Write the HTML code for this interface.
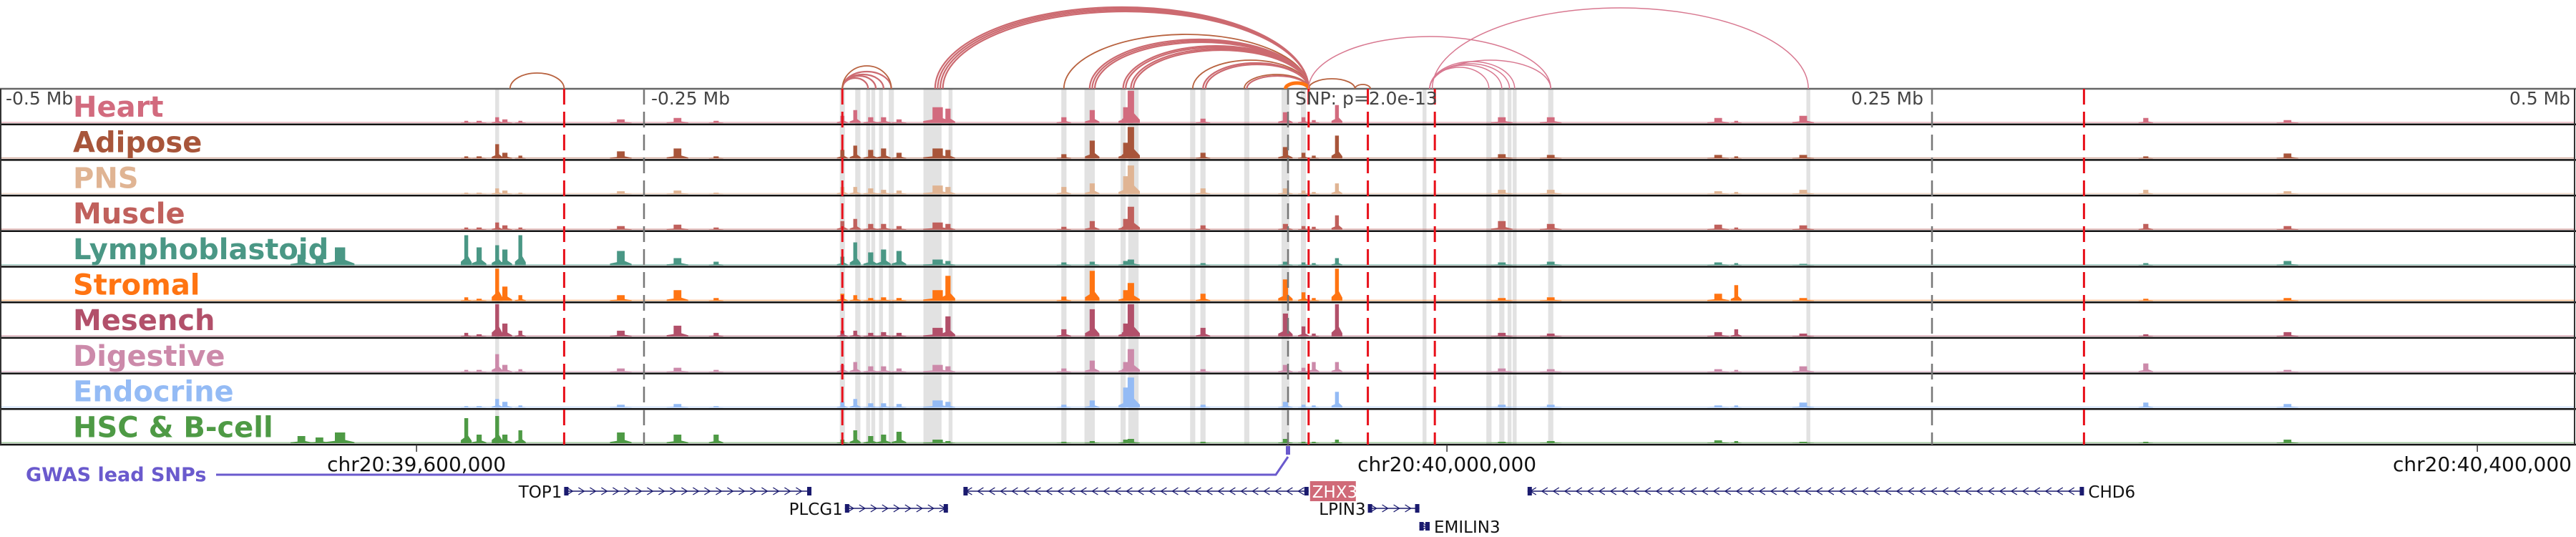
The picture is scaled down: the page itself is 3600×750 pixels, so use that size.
<!DOCTYPE html>
<html><head><meta charset="utf-8">
<style>
html,body{margin:0;padding:0;background:#fff;}
svg{display:block;}
text{font-family:"DejaVu Sans","Liberation Sans",sans-serif;}
</style></head>
<body>
<svg id="chart" width="3600" height="750" xmlns="http://www.w3.org/2000/svg">
<g id="highlights"></g>
<g id="tracks"></g>
<g id="vlines"></g>
<g id="arcs"></g>
<g id="axis"></g>
<g id="genes"></g>
</svg>
<script>
// ---- data ----
const trackNames = ["Heart","Adipose","PNS","Muscle","Lymphoblastoid","Stromal","Mesench","Digestive","Endocrine","HSC & B-cell"];
const trackColors = ["#d26b7e","#a8553a","#e0b493","#c0605c","#4a9785","#ff7412","#b2506a","#cc8aaa","#94bbf5","#4e9a45"];
// peak positions in kb relative to lead SNP
const peakKb = [-383,-376,-368,-319,-314,-307,-304,-298,-259,-237,-222,-173,-168,-162,-157,-151,-136,-132,-87,-76,-63,-61,-33,-1,6,10,19,83,102,167,174,200,333,388];
const peakWidthKb = [3,3,4,1.5,2,1.5,2,1.5,3,3,2,1.5,1.5,2,2,2,4,2,2,2,2,2.5,2,2,1.5,1.5,1.5,3,3,3,1.5,3,2,3];
const sHeart = [0,0,0,3,3,8,5,3,5,7,3,10,18,8,8,5,22,20,8,18,22,45,6,15,8,4,25,8,8,7,3,10,7,4];
const sAdipose = [0,0,0,3,3,20,8,4,10,14,3,12,18,12,14,8,14,12,6,25,22,44,8,16,8,4,32,6,5,5,3,5,3,7];
const sPNS = [0,0,0,2,2,8,5,2,4,5,2,10,10,8,6,5,12,10,10,15,25,40,8,8,5,3,15,6,6,4,3,6,6,4];
const sMuscle = [0,0,0,3,3,10,6,3,5,7,3,12,15,8,8,5,10,8,4,12,15,32,6,8,5,4,20,12,8,7,3,6,8,5];
const sLympho = [15,12,25,42,25,28,22,42,20,10,5,12,32,18,22,20,8,6,4,5,6,8,3,5,4,3,10,4,5,4,3,2,3,6];
const sStromal = [0,0,0,5,3,45,20,8,8,15,4,10,8,4,5,4,15,35,6,42,15,25,10,30,12,4,45,4,5,10,22,4,3,4];
const sMesench = [0,0,0,5,3,45,18,8,8,15,5,8,8,5,6,5,12,28,10,38,18,45,12,32,14,4,45,5,4,6,10,4,3,6];
const sDigestive = [0,0,0,3,3,25,10,4,5,6,3,10,14,8,8,5,10,8,5,16,14,32,4,10,6,14,14,5,4,4,3,8,12,3];
const sEndocrine = [0,0,0,2,2,12,8,3,4,5,2,8,12,6,6,5,10,8,4,10,28,42,4,8,4,3,22,4,4,3,3,7,7,5];
const sHSC = [10,8,15,35,12,38,12,18,15,12,12,5,18,10,12,16,5,3,2,3,5,6,2,6,2,2,5,2,3,4,3,2,2,5];
const trackSignals = [sHeart,sAdipose,sPNS,sMuscle,sLympho,sStromal,sMesench,sDigestive,sEndocrine,sHSC];
const highlightKb = [-307,-173,-167,-163,-161,-158,-154,-138,-131,-87,-77,-64,-60,-37,-33,-16,-1,6,53,78,83,86,88,102,202];
const highlightWkb = [1.5,2,2,1.5,1.5,1.5,2,7,1.5,2,4,2,4,2,2,2,3,2,1.5,2,2,1.5,1.5,2,1.5];
const redLinesKb = [-281,-173,8,31,57,309];
const greyLinesKb = [-250,0,250];
// arcs (kb start, kb end, height in px units)
const arcStart = [-302,-173,-173,-173,-173,-173,-137,-136,-135,-134,-87,-77,-76,-75,-64,-63,-61,-60,-37,-33,-32,-17,-16,-1,8,26,8,55,55,55,55,55,56];
const arcEnd = [-281,-163,-160,-157,-154,-154,8,8,8,8,8,8,8,8,8,8,8,8,8,8,8,8,8,8,26,32,102,78,83,86,88,102,202];
const arcHeight = [22,15,18,20,24,32,114,112,110,108,76,69,67,65,60,58,56,54,40,36,34,20,18,8,14,6,73,30,33,35,38,40,113];
const arcKind = [1,0,0,0,0,1,0,0,0,0,1,0,0,0,0,0,0,0,1,0,0,1,0,2,1,1,3,3,3,3,3,3,3];
const axisTicks = [39600000,40000000,40400000];
const axisTickLabels = ["chr20:39,600,000","chr20:40,000,000","chr20:40,400,000"];
const snpPos = 39938300;
const geneNames = ["TOP1","PLCG1","ZHX3","LPIN3","EMILIN3","CHD6"];
const geneStartKb = [-281,-172,-126,31,51,93];
const geneEndKb = [-185,-132,8,51,55,309];
const geneStrand = [1,1,-1,1,1,-1];
const geneRow = [0,1,0,1,2,0];

// ---- scales ----
const X0 = 1800, PXKB = 3.6;
const x = kb => X0 + kb*PXKB;
const xg = bp => X0 + (bp - snpPos)/1000*PXKB;
const T0 = 124, TH = 49.7;
const NS = "http://www.w3.org/2000/svg";
function mk(tag, attrs, parent){const e=document.createElementNS(NS,tag);for(const k in attrs)e.setAttribute(k,attrs[k]);parent.appendChild(e);return e;}

const gH = document.getElementById('highlights');
highlightKb.forEach((k,i)=>{
  const w = Math.max(5, highlightWkb[i]*PXKB);
  const r = mk('rect',{x:x(k)-w/2,y:T0,width:w,height:TH*10,fill:'#e2e2e2'},gH);
  
  
});

const gT = document.getElementById('tracks');
trackNames.forEach((name,t)=>{
  const top = T0 + t*TH, base = top + TH - 2;
  const g = mk('g',{},gT);
  
  
  mk('rect',{x:0,y:base-1.5,width:3598,height:1.5,fill:trackColors[t],opacity:0.5},g);
  const sig = trackSignals[t];
  peakKb.forEach((k,i)=>{
    const h = sig[i]; if(!h) return;
    const w = Math.max(3, peakWidthKb[i]*PXKB);
    const cx = x(k);
    const pts = [[cx-w*1.4,base],[cx-w*1.4,base-h*0.12],[cx-w/2,base-h*0.22],[cx-w/2,base-h],[cx+w/2,base-h],[cx+w/2,base-h*0.3],[cx+w*1.4,base-h*0.1],[cx+w*1.4,base]];
    const p = mk('polygon',{points:pts.map(q=>q.join(',')).join(' '),fill:trackColors[t]},g);
    
    
  });
  const lab = mk('text',{x:102,y:top+39,'font-size':40,'font-weight':'bold',fill:trackColors[t]},g);
  lab.textContent = name;
  
  
});
// borders
for(let i=0;i<=10;i++){
  const l = mk('line',{x1:0,x2:3600,y1:T0+i*TH,y2:T0+i*TH,stroke:i==0?'#666':'#111','stroke-width':2.5},gT);
  
  
}
mk('line',{x1:1,x2:1,y1:T0,y2:T0+TH*10,stroke:'#333','stroke-width':2},gT);
mk('line',{x1:3598,x2:3598,y1:T0,y2:T0+TH*10,stroke:'#333','stroke-width':2},gT);

const gV = document.getElementById('vlines');
redLinesKb.forEach(k=>{
  const l = mk('line',{x1:x(k),x2:x(k),y1:T0,y2:T0+TH*10,stroke:'#e8101a','stroke-width':3,'stroke-dasharray':'22,10'},gV);
  
  
});
greyLinesKb.forEach(k=>{
  const l = mk('line',{x1:x(k),x2:x(k),y1:T0,y2:T0+TH*10,stroke:'#777','stroke-width':2.5,'stroke-dasharray':'22,10'},gV);
  
  
});
[["-0.5 Mb",8,'start'],["-0.25 Mb",910,'start'],["0.25 Mb",2688,'end'],["0.5 Mb",3592,'end'],["SNP: p=2.0e-13",1810,'start']].forEach(d=>{
  const t = mk('text',{x:d[1],y:146,'font-size':25,fill:'#444','text-anchor':d[2]},gV);
  t.textContent = d[0];
  
  
});

const gA = document.getElementById('arcs');
const arcColors = ['#cc6a70','#b8623f','#ff7412','#d87890'];
const arcWidths = [2.2,1.8,5,1.5];
arcStart.forEach((s,i)=>{
  const x1 = x(s), x2 = x(arcEnd[i]), rx=(x2-x1)/2, h=arcHeight[i];
  const p = mk('path',{d:`M${x1},${T0} A${rx},${h} 0 0 1 ${x2},${T0}`,fill:'none',stroke:arcColors[arcKind[i]],'stroke-width':arcWidths[arcKind[i]]},gA);
  
  
});

const gX = document.getElementById('axis');
axisTicks.forEach((b,i)=>{
  const tx = xg(b);
  mk('line',{x1:tx,x2:tx,y1:T0+TH*10,y2:T0+TH*10+10,stroke:'#333','stroke-width':1.5},gX);
  const t = mk('text',{x:tx,y:658,'font-size':28,fill:'#111','text-anchor':'middle'},gX);
  if(i==2){t.setAttribute('text-anchor','end');t.setAttribute('x',3594);}
  t.textContent = axisTickLabels[i];
  
  
});
const gw = mk('text',{x:36,y:672,'font-size':27,'font-weight':'bold',fill:'#6a5acd'},gX);
gw.textContent = 'GWAS lead SNPs';


const sx = xg(snpPos);
mk('path',{d:`M302,663 L${sx-17},663 L${sx},638`,fill:'none',stroke:'#6a5acd','stroke-width':3},gX);
const snpm = mk('rect',{x:sx-3,y:623,width:6,height:12,fill:'#6a5acd'},gX);



const gG = document.getElementById('genes');
const rowY = [686,710,735];
geneNames.forEach((n,i)=>{
  const g = mk('g',{},gG);
  
  
  const x1=x(geneStartKb[i]), x2=x(geneEndKb[i]), y=rowY[geneRow[i]];
  mk('line',{x1:x1,x2:x2,y1:y,y2:y,stroke:'#1a1a6e','stroke-width':1.5},g);
  const d = geneStrand[i];
  let ch='';
  for(let ax=x1+8; ax<x2-6; ax+=16){ ch += `M${ax-4*d},${y-5} L${ax+4*d},${y} L${ax-4*d},${y+5} `; }
  mk('path',{d:ch,fill:'none',stroke:'#1a1a6e','stroke-width':1.3},g);
  mk('rect',{x:x1,y:y-6,width:6,height:12,fill:'#1a1a6e'},g);
  mk('rect',{x:x2-6,y:y-6,width:6,height:12,fill:'#1a1a6e'},g);
  if(n==='ZHX3'){
    mk('rect',{x:x2+2,y:y-14,width:64,height:28,fill:'#d06a78'},g);
    const t=mk('text',{x:x2+5,y:y+9,'font-size':23,fill:'#fff'},g); t.textContent=n;
  } else if(n==='EMILIN3' || n==='CHD6'){
    const t=mk('text',{x:x2+6,y:y+9,'font-size':23,fill:'#111'},g); t.textContent=n;
  } else {
    const t=mk('text',{x:x1-3,y:y+9,'font-size':23,fill:'#111','text-anchor':'end'},g); t.textContent=n;
  }
});
</script>
</body></html>
